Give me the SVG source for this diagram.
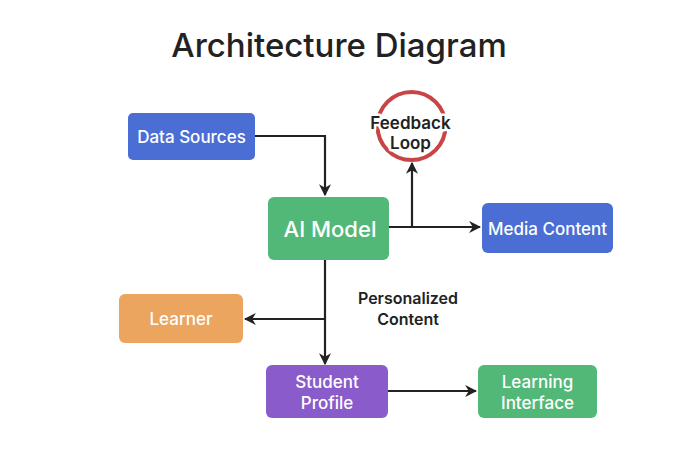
<svg xmlns="http://www.w3.org/2000/svg" width="696" height="463" viewBox="0 0 696 463">
<style>
.t{font-family:Inter,"Liberation Sans",sans-serif;text-anchor:middle;dominant-baseline:central}
.w{fill:#fff;font-size:17px;font-weight:500}
.k{fill:#222;font-size:16px;font-weight:600}
.h{stroke:#fff;stroke-width:5px;paint-order:stroke;stroke-linejoin:round}
.e{fill:none;stroke:#222;stroke-width:2.2}
</style>
<defs>
<marker id="a" viewBox="0 0 10 10" refX="9" refY="5" markerWidth="5.5" markerHeight="5.5" orient="auto-start-reverse" markerUnits="strokeWidth">
<path d="M0,0 L10,5 L0,10 L3,5 z" fill="#222"/>
</marker>
</defs>
<rect width="696" height="463" fill="#fff"/>
<text class="t" x="339" y="45" style="font-size:33px;font-weight:500" fill="#222">Architecture Diagram</text>
<g id="connectors">
<path class="e" d="M255,136 H325 V195" marker-end="url(#a)"/>
<path class="e" d="M389,227 H480" marker-end="url(#a)"/>
<path class="e" d="M412,227 V163" marker-end="url(#a)"/>
<path class="e" d="M325,260 V364" marker-end="url(#a)"/>
<path class="e" d="M325,319 H245" marker-end="url(#a)"/>
<path class="e" d="M388,391 H476" marker-end="url(#a)"/>
</g>
<g id="data-sources"><rect x="128" y="113" width="127" height="47" rx="5" fill="#4a6ed3"/><text class="t w" x="191.5" y="136.5">Data Sources</text></g>
<g id="feedback-loop"><circle cx="411.5" cy="126" r="34" fill="#fff" stroke="#c94545" stroke-width="4"/><text class="t k h" x="410.5" y="123" style="font-size:17px">Feedback</text><text class="t k h" x="410.5" y="143" style="font-size:17px">Loop</text></g>
<g id="ai-model"><rect x="268" y="197" width="121" height="63" rx="6" fill="#52b877"/><text class="t w" x="330" y="229" style="font-size:22px">AI Model</text></g>
<g id="media-content"><rect x="482" y="203" width="131" height="50" rx="6" fill="#4a6ed3"/><text class="t w" x="547.5" y="229">Media Content</text></g>
<g id="personalized-content"><text class="t k" x="408" y="298">Personalized</text><text class="t k" x="408" y="319">Content</text></g>
<g id="learner"><rect x="119" y="294" width="124" height="49" rx="6" fill="#eba55f"/><text class="t w" x="181" y="319">Learner</text></g>
<g id="student-profile"><rect x="266" y="365" width="122" height="53" rx="6" fill="#8a5bcb"/><text class="t w" x="327" y="382">Student</text><text class="t w" x="327" y="403">Profile</text></g>
<g id="learning-interface"><rect x="478" y="365" width="119" height="53" rx="6" fill="#52b877"/><text class="t w" x="537.5" y="382">Learning</text><text class="t w" x="537.5" y="403">Interface</text></g>
</svg>
